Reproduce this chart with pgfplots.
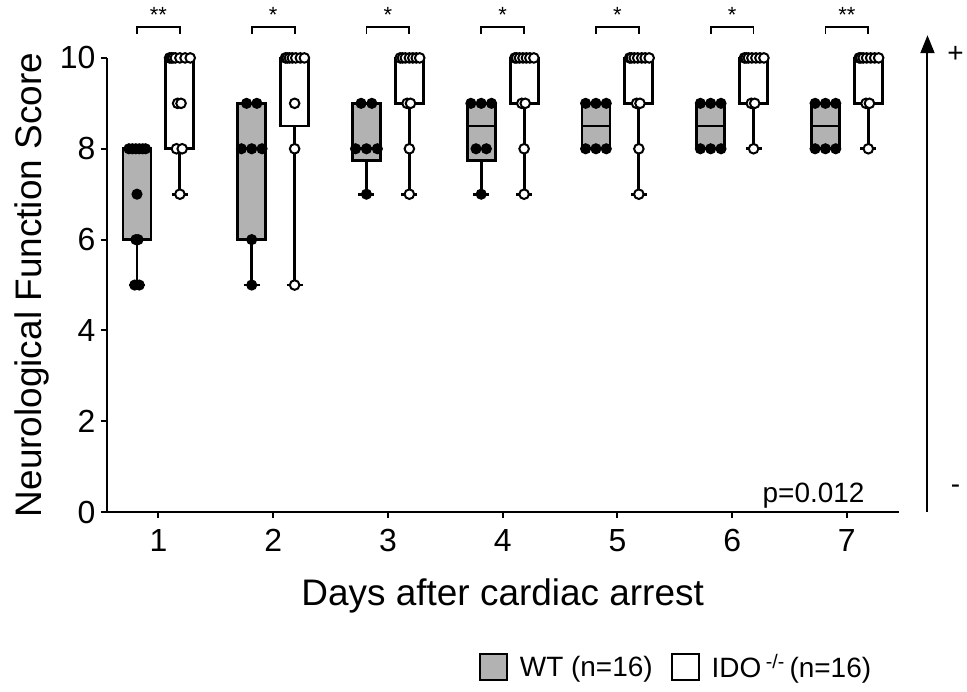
\documentclass[border=0pt]{standalone}
\usepackage{fontspec}
\setmainfont{Liberation Sans}
\usepackage{pgfplots}
\pgfplotsset{compat=1.18}
\usepgfplotslibrary{statistics}
\usetikzlibrary{arrows.meta}
\definecolor{boxgray}{RGB}{178,178,178}
\newcommand{\fs}[1]{\fontsize{#1}{#1}\selectfont}
\begin{document}
\begin{tikzpicture}
\begin{axis}[
  scale only axis, width=793pt, height=455pt,
  xmin=0.55, xmax=7.45, ymin=0, ymax=10,
  axis lines=left, axis line style={-, line width=2pt},
  clip=false,
  xtick={1,2,3,4,5,6,7}, ytick={0,2,4,6,8,10},
  tick align=outside, major tick length=6pt,
  tick style={line width=2pt, black},
  /pgf/number format/assume math mode=true,
  ticklabel style={font=\fs{32}},
  xticklabel style={yshift=-8pt},
  yticklabel style={xshift=-2pt},
  xlabel={Days after cardiac arrest},
  ylabel={Neurological Function Score},
  xlabel style={font=\fs{37}, at={(axis description cs:0.5,-0.185)}, anchor=center},
  ylabel style={font=\fs{37}, at={(axis description cs:-0.095,0.5)}, anchor=center},
  boxplot/draw direction=y,
  boxplot/box extend=0.244,
  boxplot/whisker extend=0.14,
  legend columns=2,
  legend style={draw=none, fill=none, font=\fs{28}, at={(axis description cs:0.972,-0.34)}, anchor=east,
    /tikz/every even column/.append style={column sep=16pt}},
  legend image code/.code={\draw[#1] (0pt,-13pt) rectangle (27pt,13pt);},
]
\addlegendimage{fill=boxgray, draw=black, line width=2pt}
\addlegendentry{\hspace{10pt}WT (n=16)}
\addlegendimage{fill=white, draw=black, line width=2pt}
\addlegendentry{\hspace{10pt}IDO\,\textsuperscript{-/-}\,(n=16)}

\pgfplotsset{wtbox/.style={draw=black, fill=boxgray, line width=2.8pt, solid, mark=none},
             idobox/.style={draw=black, fill=white, line width=2.8pt, solid, mark=none}}
% WT boxes
\addplot[wtbox, boxplot prepared={lower whisker=5, lower quartile=6, median=8, upper quartile=8, upper whisker=8, draw position=0.813}] coordinates {};
\addplot[wtbox, boxplot prepared={lower whisker=5, lower quartile=6, median=8, upper quartile=9, upper whisker=9, draw position=1.813}] coordinates {};
\addplot[wtbox, boxplot prepared={lower whisker=7, lower quartile=7.75, median=8, upper quartile=9, upper whisker=9, draw position=2.813}] coordinates {};
\addplot[wtbox, boxplot prepared={lower whisker=7, lower quartile=7.75, median=8.5, upper quartile=9, upper whisker=9, draw position=3.813}] coordinates {};
\addplot[wtbox, boxplot prepared={lower whisker=8, lower quartile=8, median=8.5, upper quartile=9, upper whisker=9, draw position=4.813}] coordinates {};
\addplot[wtbox, boxplot prepared={lower whisker=8, lower quartile=8, median=8.5, upper quartile=9, upper whisker=9, draw position=5.813}] coordinates {};
\addplot[wtbox, boxplot prepared={lower whisker=8, lower quartile=8, median=8.5, upper quartile=9, upper whisker=9, draw position=6.813}] coordinates {};
% IDO boxes
\addplot[idobox, boxplot prepared={lower whisker=7, lower quartile=8, median=10, upper quartile=10, upper whisker=10, draw position=1.187}] coordinates {};
\addplot[idobox, boxplot prepared={lower whisker=5, lower quartile=8.5, median=10, upper quartile=10, upper whisker=10, draw position=2.187}] coordinates {};
\addplot[idobox, boxplot prepared={lower whisker=7, lower quartile=9, median=10, upper quartile=10, upper whisker=10, draw position=3.187}] coordinates {};
\addplot[idobox, boxplot prepared={lower whisker=7, lower quartile=9, median=10, upper quartile=10, upper whisker=10, draw position=4.187}] coordinates {};
\addplot[idobox, boxplot prepared={lower whisker=7, lower quartile=9, median=10, upper quartile=10, upper whisker=10, draw position=5.187}] coordinates {};
\addplot[idobox, boxplot prepared={lower whisker=8, lower quartile=9, median=10, upper quartile=10, upper whisker=10, draw position=6.187}] coordinates {};
\addplot[idobox, boxplot prepared={lower whisker=8, lower quartile=9, median=10, upper quartile=10, upper whisker=10, draw position=7.187}] coordinates {};

% WT points
\addplot[only marks, mark=*, mark size=4.8pt, mark options={fill=black, draw=black, line width=1.5pt}] coordinates {
 (0.743,8) (0.773,8) (0.803,8) (0.833,8) (0.863,8) (0.888,8)
 (0.813,7) (0.803,6) (0.823,6) (0.793,5) (0.833,5)
 (1.768,9) (1.858,9) (1.723,8) (1.813,8) (1.903,8) (1.813,6) (1.813,5)
 (2.766,9) (2.860,9) (2.718,8) (2.813,8) (2.908,8) (2.813,7)
 (3.723,9) (3.813,9) (3.903,9) (3.768,8) (3.858,8) (3.813,7)
 (4.723,9) (4.813,9) (4.903,9) (4.723,8) (4.813,8) (4.903,8)
 (5.723,9) (5.813,9) (5.903,9) (5.723,8) (5.813,8) (5.903,8)
 (6.723,9) (6.813,9) (6.903,9) (6.723,8) (6.813,8) (6.903,8)
};
% IDO points
\addplot[only marks, mark=*, mark size=4.8pt, mark options={fill=white, draw=black, line width=2pt}] coordinates {
 (1.097,10) (1.112,10) (1.127,10) (1.147,10) (1.187,10) (1.232,10) (1.277,10)
 (1.167,9) (1.197,9) (1.157,8) (1.207,8) (1.187,7)
 (2.107,10) (2.122,10) (2.142,10) (2.167,10) (2.197,10) (2.237,10) (2.272,10)
 (2.187,9) (2.187,8) (2.187,5)
 (3.107,10) (3.127,10) (3.152,10) (3.187,10) (3.217,10) (3.247,10) (3.277,10)
 (3.167,9) (3.197,9) (3.187,8) (3.187,7)
 (4.107,10) (4.122,10) (4.147,10) (4.177,10) (4.207,10) (4.237,10) (4.272,10)
 (4.167,9) (4.197,9) (4.187,8) (4.187,7)
 (5.107,10) (5.122,10) (5.147,10) (5.177,10) (5.212,10) (5.242,10) (5.277,10)
 (5.167,9) (5.197,9) (5.187,8) (5.187,7)
 (6.107,10) (6.122,10) (6.142,10) (6.172,10) (6.207,10) (6.242,10) (6.277,10)
 (6.167,9) (6.197,9) (6.187,8)
 (7.107,10) (7.122,10) (7.142,10) (7.172,10) (7.207,10) (7.242,10) (7.277,10)
 (7.167,9) (7.197,9) (7.187,8)
};

% significance brackets
\draw[line width=1.8pt] (axis cs:0.813,10.53) -- (axis cs:0.813,10.68) -- (axis cs:1.187,10.68) -- (axis cs:1.187,10.53);
\draw[line width=1.8pt] (axis cs:1.813,10.53) -- (axis cs:1.813,10.68) -- (axis cs:2.187,10.68) -- (axis cs:2.187,10.53);
\draw[line width=1.8pt] (axis cs:2.813,10.53) -- (axis cs:2.813,10.68) -- (axis cs:3.187,10.68) -- (axis cs:3.187,10.53);
\draw[line width=1.8pt] (axis cs:3.813,10.53) -- (axis cs:3.813,10.68) -- (axis cs:4.187,10.68) -- (axis cs:4.187,10.53);
\draw[line width=1.8pt] (axis cs:4.813,10.53) -- (axis cs:4.813,10.68) -- (axis cs:5.187,10.68) -- (axis cs:5.187,10.53);
\draw[line width=1.8pt] (axis cs:5.813,10.53) -- (axis cs:5.813,10.68) -- (axis cs:6.187,10.68) -- (axis cs:6.187,10.53);
\draw[line width=1.8pt] (axis cs:6.813,10.53) -- (axis cs:6.813,10.68) -- (axis cs:7.187,10.68) -- (axis cs:7.187,10.53);
\node[font=\fs{22}] at (axis cs:1,10.95) {**};
\node[font=\fs{22}] at (axis cs:2,10.95) {*};
\node[font=\fs{22}] at (axis cs:3,10.95) {*};
\node[font=\fs{22}] at (axis cs:4,10.95) {*};
\node[font=\fs{22}] at (axis cs:5,10.95) {*};
\node[font=\fs{22}] at (axis cs:6,10.95) {*};
\node[font=\fs{22}] at (axis cs:7,10.95) {**};
\node[font=\fs{28}] at (axis cs:6.71,0.37) {p=0.012};

% right arrow
\draw[line width=2pt, -{Triangle[length=18pt,width=14pt]}] (axis description cs:1.0366,0) -- (axis description cs:1.0366,1.05);
\node[font=\fs{28}] at (axis description cs:1.072,1.007) {+};
\node[font=\fs{28}] at (axis description cs:1.072,0.05) {-};

% bounding box
\path (axis description cs:-0.1349,-0.3956) rectangle (axis description cs:1.0845,1.1275);
\end{axis}
\end{tikzpicture}
\end{document}
